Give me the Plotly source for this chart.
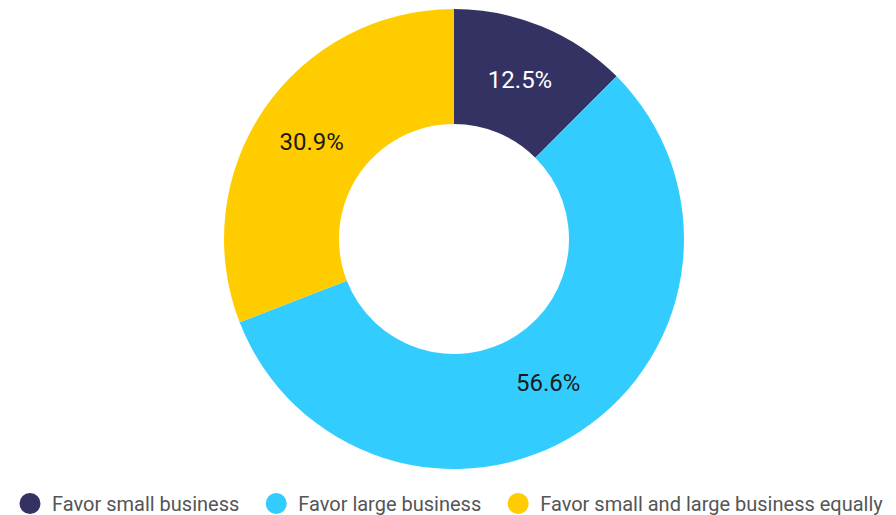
import plotly.graph_objects as go

labels = ["Favor small business", "Favor large business", "Favor small and large business equally"]
values = [12.5, 56.6, 30.9]
colors = ["#343263", "#33CCFF", "#FFCC00"]
text_colors = ["#FFFFFF", "#1A1A1A", "#1A1A1A"]

fig = go.Figure()
fig.add_trace(go.Pie(
    labels=labels, values=values, hole=0.5, sort=False, direction="clockwise", rotation=0,
    marker=dict(colors=colors, line=dict(width=0)),
    texttemplate="%{value:.1f}%", textposition="inside", insidetextorientation="horizontal",
    textfont=dict(family="Roboto", size=24, color=text_colors),
    showlegend=False, hoverinfo="label+value",
    domain=dict(x=[216/896, 676/896], y=[(515-461)/515, (515-1)/515]),
))
pad = "\u00a0" * 2
for i, (lab, col) in enumerate(zip(labels, colors)):
    fig.add_trace(go.Scatter(x=[None], y=[None], mode="markers",
                             name=lab + (pad if i < len(labels) - 1 else ""),
                             marker=dict(symbol="circle", size=16, color=col,
                                         line=dict(width=5, color=col))))

fig.update_layout(
    width=896, height=515, margin=dict(l=0, r=0, t=0, b=0),
    paper_bgcolor="white", plot_bgcolor="white",
    xaxis=dict(visible=False), yaxis=dict(visible=False),
    legend=dict(orientation="h", x=0.485, xanchor="center", y=0.0, yanchor="bottom",
                font=dict(family="Roboto", size=20, color="#555555"), itemsizing="trace",
                itemwidth=34, borderwidth=0),
    font=dict(family="Roboto"),
)
fig.write_html("out.html")
